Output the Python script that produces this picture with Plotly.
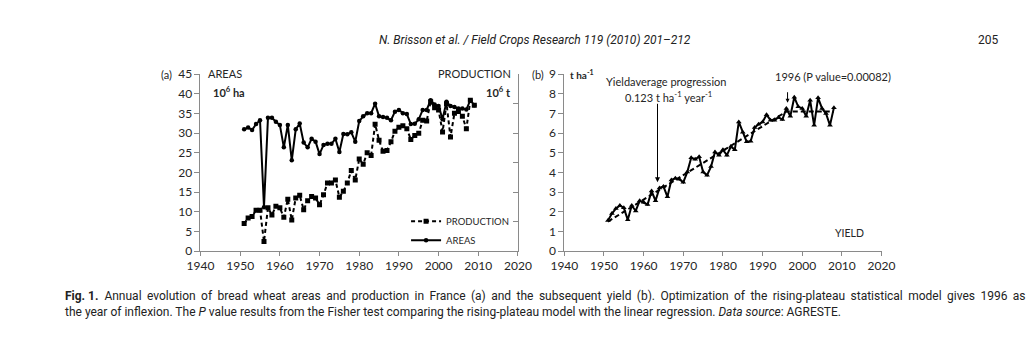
import plotly.graph_objects as go

W, H = 1032, 339

years = list(range(1951, 2010))
# bread wheat areas (10^6 ha, right axis of panel a)
areas = [4.13, 4.19, 4.11, 4.31, 4.44, 1.49, 4.52, 4.52, 4.39, 4.28,
         3.52, 4.28, 3.08, 4.13, 4.33, 3.68, 3.52, 3.81, 3.71, 3.29,
         3.60, 3.64, 3.64, 3.81, 3.36, 3.97, 3.96, 4.03, 3.71, 4.41,
         4.57, 4.68, 4.68, 5.00, 4.57, 4.55, 4.52, 4.44, 4.73, 4.79,
         4.68, 4.65, 4.31, 4.32, 4.47, 4.79, 4.79, 5.12, 4.97, 4.92,
         4.47, 5.07, 4.92, 4.89, 4.84, 4.84, 4.80, 5.12, 4.95]
# production (10^6 t, left axis of panel a)
production = [7.0, 8.4, 8.8, 10.4, 10.4, 2.4, 11.0, 9.2, 11.4, 11.0,
              8.6, 13.2, 7.9, 13.5, 14.2, 10.5, 12.8, 13.9, 13.5, 11.8,
              14.3, 17.3, 17.3, 18.1, 13.7, 15.2, 17.3, 20.5, 18.1, 23.4,
              22.1, 25.0, 24.3, 32.3, 28.2, 25.4, 25.6, 27.8, 30.5, 31.5,
              31.9, 31.1, 28.4, 29.4, 30.0, 33.3, 33.1, 38.0, 36.5, 35.9,
              30.3, 37.5, 29.0, 35.1, 35.5, 34.3, 31.1, 38.4, 37.1]

yield_years = list(range(1951, 2009))
yields = [1.56, 1.91, 2.16, 2.32, 2.20, 1.59, 2.32, 2.04, 2.56, 2.48,
          2.37, 3.05, 2.56, 3.21, 3.29, 2.76, 3.62, 3.70, 3.66, 3.50,
          4.02, 4.75, 4.67, 4.80, 4.02, 3.86, 4.30, 5.04, 4.88, 5.15,
          4.88, 5.32, 5.15, 6.57, 6.05, 5.56, 5.59, 6.29, 6.45, 6.57,
          6.94, 6.66, 6.66, 6.80, 6.69, 7.26, 6.86, 7.83, 7.34, 7.26,
          6.86, 7.67, 6.40, 7.80, 7.26, 7.00, 6.40, 7.30]
# rising-plateau model (break points)
trend_years = [1951, 1996, 2008]
trend_vals = [1.50, 7.10, 7.10]

x_ticks = [1940, 1950, 1960, 1970, 1980, 1990, 2000, 2010, 2020]

FONT = "Lato, 'Open Sans', sans-serif"
NARROW = "Roboto, 'Noto Sans', sans-serif"
AXC = "#8a8a8a"
TXT = "#262626"


def px(x):
    return x / W


def py(y):
    return 1 - y / H


fig = go.Figure()

fig.add_trace(go.Scatter(x=years, y=production, name="PRODUCTION", mode="lines+markers",
                         line=dict(color="black", width=2, dash="4px,3px"),
                         marker=dict(symbol="square", size=5, color="black"),
                         xaxis="x", yaxis="y"))
fig.add_trace(go.Scatter(x=years, y=areas, name="AREAS", mode="lines+markers",
                         line=dict(color="black", width=2),
                         marker=dict(symbol="circle", size=4.5, color="black"),
                         xaxis="x", yaxis="y2"))
fig.add_trace(go.Scatter(x=yield_years, y=yields, name="YIELD", mode="lines+markers",
                         line=dict(color="black", width=2),
                         marker=dict(symbol="triangle-up", size=5, color="black"),
                         xaxis="x2", yaxis="y3", showlegend=False))
fig.add_trace(go.Scatter(x=trend_years, y=trend_vals, name="model", mode="lines",
                         line=dict(color="black", width=2, dash="5px,3px"),
                         xaxis="x2", yaxis="y3", showlegend=False))

ydom = [py(254.3), py(69.3)]
xcommon = dict(range=[1940, 2020], tickvals=x_ticks, showline=True, linecolor=AXC,
               linewidth=1, ticks="outside", ticklen=4, tickcolor=AXC, showgrid=False,
               zeroline=False, tickfont=dict(family=FONT, size=12, color=TXT))
ycommon = dict(showline=True, linecolor=AXC, linewidth=1, ticks="outside", ticklen=5,
               tickcolor=AXC, showgrid=False, zeroline=False,
               tickfont=dict(family=FONT, size=12, color=TXT))

fig.update_layout(
    width=W, height=H, margin=dict(l=0, r=0, t=0, b=0),
    paper_bgcolor="white", plot_bgcolor="white",
    xaxis=dict(domain=[px(191.7), px(518)], anchor="y", **xcommon),
    yaxis=dict(domain=ydom, range=[0, 45], dtick=5, anchor="x", **ycommon),
    yaxis2=dict(range=[0, 6], dtick=1, overlaying="y", side="right", anchor="x",
                showline=True, linecolor=AXC, ticks="inside", ticklen=5, tickcolor=AXC,
                showticklabels=False, showgrid=False, zeroline=False),
    xaxis2=dict(domain=[px(565.7), px(891.7)], anchor="y3", **xcommon),
    yaxis3=dict(domain=ydom, range=[0, 9], dtick=1, anchor="x2", **ycommon),
    legend=dict(x=px(403), y=py(208), xanchor="left", yanchor="top",
                bgcolor="rgba(0,0,0,0)", font=dict(family=FONT, size=9.5, color=TXT),
                itemwidth=30, tracegroupgap=0),
    showlegend=True,
)

ann = []


def text(x, y, s, size=11, family=FONT, xanchor="center", color=TXT):
    ann.append(dict(x=px(x), y=py(y), xref="paper", yref="paper", text=s, showarrow=False,
                    xanchor=xanchor, yanchor="middle",
                    font=dict(family=family, size=size, color=color)))


line1 = ("Annual evolution of bread wheat areas and production in France (a) and the subsequent yield (b). "
         "Optimization of the rising-plateau statistical model gives 1996 as")
line1 = line1.replace(" ", " \u2009")

text(536, 33, "<i>N. Brisson et al. / Field Crops Research 119 (2010) 201–212</i>", size=12, family=NARROW, color="#222")
text(1001, 33, "205", size=12, family=NARROW, color="#222")
text(50, 301, "<b>Fig. 1.</b>  " + line1, size=12, family=NARROW, xanchor="left", color="#222")
text(50, 318, "the year of inflexion. The <i>P</i> value results from the Fisher test comparing the rising-plateau model "
     "with the linear regression. <i>Data source</i>: AGRESTE.", size=12, family=NARROW, xanchor="left", color="#222")

text(157, 70, "(a)", size=11)
text(217, 69, "AREAS", size=11)
text(221, 87, "<b>10<sup>6</sup> ha</b>", size=11)
text(473, 69, "PRODUCTION", size=11)
text(498, 87, "<b>10<sup>6</sup> t</b>", size=11)

text(539, 70, "(b)", size=11)
text(584, 70, "<b>t ha<sup>-1</sup></b>", size=10)
text(670, 77, "Yieldaverage progression", size=11)
text(673, 93, "0.123 t ha<sup>-1</sup> year<sup>-1</sup>", size=11)
text(842, 72, "1996 (P value=0.00082)", size=11)
text(859, 235, "YIELD", size=10.5)

fig.update_layout(annotations=ann)

fig.add_annotation(x=1963.5, y=3.5, xref="x2", yref="y3", ax=0, ay=-80, axref="pixel", ayref="pixel",
                   showarrow=True, arrowhead=2, arrowsize=1, arrowwidth=1, arrowcolor="black", text="")
fig.add_annotation(x=1996.3, y=7.55, xref="x2", yref="y3", ax=0, ay=-12,
                   showarrow=True, arrowhead=2, arrowsize=0.8, arrowwidth=1, arrowcolor="black", text="")

fig.write_html("out.html")
